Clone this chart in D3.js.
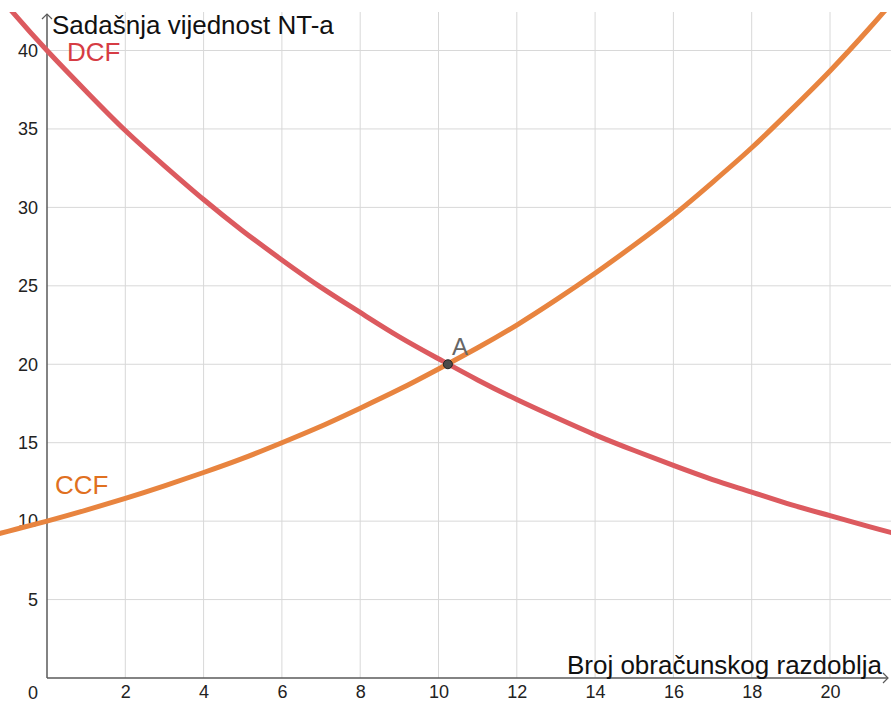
<!DOCTYPE html>
<html>
<head>
<meta charset="utf-8">
<script src="https://cdn.jsdelivr.net/npm/d3@7"></script>
<style>
  body { margin: 0; background: #fff; }
  text { font-family: "Liberation Sans", Arial, sans-serif; }
</style>
</head>
<body>
<div id="chart"></div>
<script>
// values
var periods = [-2, -1, 0, 1, 2, 3, 4, 5, 6, 7, 8, 9, 10, 11, 12, 13, 14, 15, 16, 17, 18, 19, 20, 21, 22, 23];
var ccfValues = [8.7, 9.35, 10, 10.7, 11.45, 12.25, 13.1, 14.0, 15.0, 16.05, 17.2, 18.4, 19.7, 21.05, 22.5, 24.1, 25.8, 27.6, 29.5, 31.6, 33.8, 36.2, 38.7, 41.4, 44.3, 47.4];
var dcfValues = [45.8, 42.8, 40, 37.4, 34.9, 32.65, 30.5, 28.5, 26.65, 24.9, 23.3, 21.75, 20.35, 19.0, 17.75, 16.6, 15.5, 14.5, 13.55, 12.65, 11.85, 11.05, 10.35, 9.65, 9.0, 8.45];
var xTicks = [2, 4, 6, 8, 10, 12, 14, 16, 18, 20];
var yTicks = [5, 10, 15, 20, 25, 30, 35, 40];
var pointA = {x: 10.24, y: 20, label: "A"};

var W = 891, H = 702;
var plotTop = 12;

var x = d3.scaleLinear().domain([0, 20]).range([47, 830]);
var y = d3.scaleLinear().domain([0, 40]).range([678, 50.5]);

var svg = d3.select("#chart").append("svg")
    .attr("width", W)
    .attr("height", H);

svg.append("defs").append("clipPath").attr("id", "clip")
    .append("rect").attr("x", 0).attr("y", plotTop).attr("width", W).attr("height", H - plotTop);

// grid
svg.append("g").selectAll("line")
    .data(xTicks)
    .enter().append("line")
    .attr("x1", function (d) { return x(d); })
    .attr("x2", function (d) { return x(d); })
    .attr("y1", plotTop)
    .attr("y2", y(0))
    .attr("stroke", "#d8d8d8")
    .attr("stroke-width", 1);

svg.append("g").selectAll("line")
    .data(yTicks)
    .enter().append("line")
    .attr("x1", x(0))
    .attr("x2", W)
    .attr("y1", function (d) { return y(d); })
    .attr("y2", function (d) { return y(d); })
    .attr("stroke", "#d8d8d8")
    .attr("stroke-width", 1);

// axes (tick labels via d3 axis)
var xAxis = svg.append("g")
    .attr("transform", "translate(0," + y(0) + ")")
    .call(d3.axisBottom(x).tickValues(xTicks).tickSize(0).tickPadding(7));
xAxis.select(".domain").remove();
xAxis.selectAll("text").attr("font-size", 18).attr("fill", "#222")
    .style("font-family", "Liberation Sans, Arial, sans-serif");

var yAxis = svg.append("g")
    .attr("transform", "translate(" + x(0) + ",0)")
    .call(d3.axisLeft(y).tickValues(yTicks).tickSize(0).tickPadding(9));
yAxis.select(".domain").remove();
yAxis.selectAll("text").attr("font-size", 18).attr("fill", "#222")
    .style("font-family", "Liberation Sans, Arial, sans-serif");

svg.append("text")
    .attr("x", x(0) - 14)
    .attr("y", y(0) + 21)
    .attr("text-anchor", "middle")
    .attr("font-size", 18)
    .attr("fill", "#222")
    .text("0");

var axisColor = "#5a5a5a";
svg.append("line")
    .attr("x1", x(0)).attr("x2", x(0))
    .attr("y1", y(0)).attr("y2", 14)
    .attr("stroke", axisColor).attr("stroke-width", 1.5);
svg.append("path")
    .attr("d", "M" + (x(0) - 5) + ",19 L" + x(0) + ",14 L" + (x(0) + 5) + ",19")
    .attr("fill", "none").attr("stroke", axisColor).attr("stroke-width", 1.2);
svg.append("line")
    .attr("x1", x(0)).attr("x2", 888)
    .attr("y1", y(0)).attr("y2", y(0))
    .attr("stroke", axisColor).attr("stroke-width", 1.5);
svg.append("path")
    .attr("d", "M883," + (y(0) - 5) + " L888," + y(0) + " L883," + (y(0) + 5))
    .attr("fill", "none").attr("stroke", axisColor).attr("stroke-width", 1.2);

// curves
var line = d3.line()
    .x(function (d) { return x(d[0]); })
    .y(function (d) { return y(d[1]); })
    .curve(d3.curveNatural);

var curves = svg.append("g").attr("clip-path", "url(#clip)");
curves.append("path")
    .datum(d3.zip(periods, dcfValues))
    .attr("d", line)
    .attr("fill", "none")
    .attr("stroke", "#dc5a5f")
    .attr("stroke-width", 5);
curves.append("path")
    .datum(d3.zip(periods, ccfValues))
    .attr("d", line)
    .attr("fill", "none")
    .attr("stroke", "#e8843f")
    .attr("stroke-width", 5);

// point A
svg.append("circle")
    .attr("cx", x(pointA.x))
    .attr("cy", y(pointA.y))
    .attr("r", 4.5)
    .attr("fill", "#4a4a4a")
    .attr("stroke", "#222")
    .attr("stroke-width", 1);
svg.append("text")
    .attr("x", x(pointA.x) + 4)
    .attr("y", y(pointA.y) - 9)
    .attr("font-size", 24)
    .attr("fill", "#666")
    .text(pointA.label);

// labels
svg.append("text")
    .attr("x", 52).attr("y", 34)
    .attr("font-size", 26)
    .attr("fill", "#111")
    .text("Sadašnja vijednost NT-a");
svg.append("text")
    .attr("x", 882).attr("y", 674)
    .attr("text-anchor", "end")
    .attr("font-size", 26)
    .attr("fill", "#111")
    .text("Broj obračunskog razdoblja");
svg.append("text")
    .attr("x", 67).attr("y", 61)
    .attr("font-size", 26)
    .attr("fill", "#d63c44")
    .text("DCF");
svg.append("text")
    .attr("x", 55).attr("y", 494)
    .attr("font-size", 26)
    .attr("fill", "#e0701f")
    .text("CCF");
</script>
</body>
</html>
